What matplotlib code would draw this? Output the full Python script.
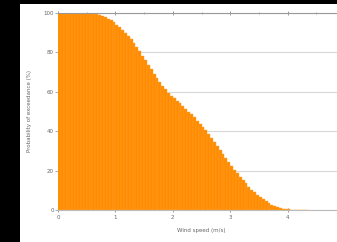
import numpy as np
import matplotlib
matplotlib.use("Agg")
import matplotlib.pyplot as plt
from matplotlib.patches import Rectangle

# bins of 0.05 starting at 0
bin_width = 0.05
exceedance = [
    100, 100, 100, 100, 100, 100, 100, 100, 100, 100,
    99.9, 99.8, 99.6, 99.3, 98.9, 98.4, 97.8, 97.1, 96.2, 95.2,
    94.1, 92.8, 91.4, 89.9, 88.3, 86.6, 84.7, 82.7, 80.6, 78.4,
    76.1, 73.8, 71.5, 69.2, 67.0, 64.9, 63.0, 61.2, 59.6, 58.1,
    56.7, 55.4, 54.1, 52.8, 51.4, 50.0, 48.5, 47.0, 45.4, 43.8,
    42.2, 40.5, 38.6, 36.6, 34.5, 32.4, 30.3, 28.2, 26.2, 24.2,
    22.3, 20.4, 18.6, 16.8, 15.1, 13.5, 11.9, 10.4, 9.0, 7.7,
    6.5, 5.4, 4.4, 3.5, 2.7, 2.0, 1.4, 1.0, 0.7, 0.5,
    0.3, 0.2, 0.15, 0.1, 0.07, 0.05, 0.03,
]
wind = np.arange(len(exceedance)) * bin_width
x_ticks = [0, 1, 2, 3, 4]
x_minor = [0.5, 1.5, 2.5, 3.5, 4.5]
y_ticks = [0, 20, 40, 60, 80, 100]

fig = plt.figure(figsize=(3.37, 2.42), dpi=100)
fig.patch.set_facecolor("black")
fig.patches.append(Rectangle((20 / 337, 0), 1, 238 / 242, transform=fig.transFigure,
                             facecolor="white", edgecolor="none", zorder=-10))

ax = fig.add_axes([58 / 337, 32 / 242, 287 / 337, 197 / 242])
ax.set_facecolor("white")
ax.bar(wind, exceedance, width=bin_width, align="edge", color="#ff8c00",
       edgecolor="#ffa230", linewidth=0.3)

ax.set_xlim(0, 5)
ax.set_ylim(0, 100)
ax.set_axisbelow(True)
ax.yaxis.grid(True, color="#d8d8d8", linewidth=0.8)
ax.set_yticks(y_ticks)
ax.set_xticks(x_ticks)
ax.set_xticks(x_minor, minor=True)

for s in ["left", "right"]:
    ax.spines[s].set_visible(False)
ax.spines["top"].set_color("#999999")
ax.spines["bottom"].set_color("#bbbbbb")
ax.spines["top"].set_linewidth(0.8)
ax.spines["bottom"].set_linewidth(0.8)

ax.tick_params(axis="x", which="major", top=True, direction="inout", length=3,
               width=0.6, color="#888888", labelsize=4, labelcolor="#666666", pad=2)
ax.tick_params(axis="x", which="minor", top=True, bottom=False, direction="inout",
               length=2, width=0.5, color="#888888")
ax.tick_params(axis="y", length=2, width=0.5, color="#888888", labelsize=4,
               labelcolor="#666666", pad=1)

ax.set_xlabel("Wind speed (m/s)", fontsize=4, color="#666666", labelpad=6)
ax.set_ylabel("Probability of exceedance (%)", fontsize=4, color="#666666", labelpad=8)

fig.savefig("out.png", dpi=100, facecolor=fig.get_facecolor())
